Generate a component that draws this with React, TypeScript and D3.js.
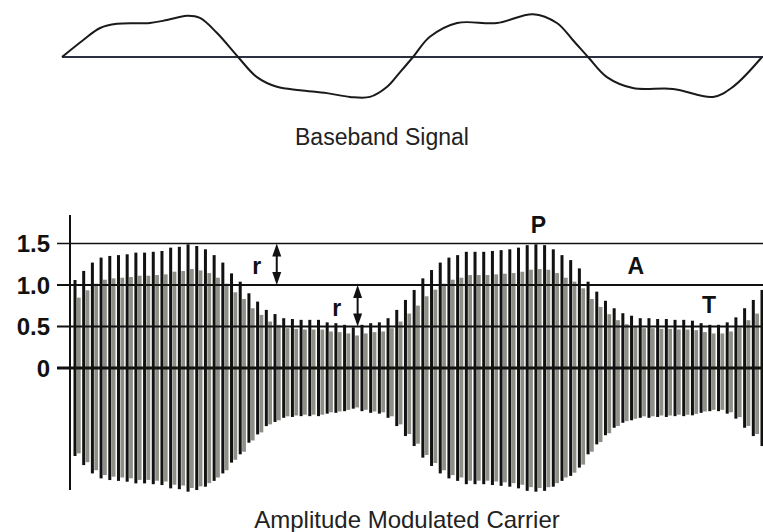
import React from 'react';
import * as d3 from 'd3';

const W = 763;
const H = 532;

// Baseband signal: time in modulation periods (0..2), normalized value (-1..1)
const basebandT = [0, 0.06, 0.109, 0.157, 0.251, 0.3, 0.357, 0.394, 0.443, 0.503, 0.557, 0.614, 0.68, 0.757, 0.823, 0.88, 0.929, 0.966, 1.003, 1.051, 1.129, 1.243, 1.346, 1.414, 1.46, 1.503, 1.557, 1.631, 1.746, 1.86, 1.917, 2.0];
const basebandV = [0, 0.4, 0.69, 0.79, 0.81, 0.88, 0.98, 0.93, 0.57, 0, -0.48, -0.71, -0.79, -0.86, -0.95, -0.95, -0.71, -0.36, 0, 0.48, 0.81, 0.81, 1.02, 0.81, 0.4, 0, -0.48, -0.74, -0.76, -0.95, -0.71, 0];

// Carrier envelope amplitude per carrier cycle (80 cycles)
const carrierEnvelope = [
  1.06, 1.17, 1.27, 1.33, 1.35, 1.36, 1.37, 1.39, 1.39, 1.4, 1.41, 1.45, 1.46, 1.49, 1.47, 1.43, 1.36, 1.27, 1.14, 1.04,
  0.9, 0.8, 0.7, 0.65, 0.6, 0.59, 0.58, 0.58, 0.58, 0.55, 0.54, 0.52, 0.49, 0.52, 0.54, 0.55, 0.6, 0.7, 0.82,
  0.94, 1.08, 1.18, 1.27, 1.33, 1.36, 1.4, 1.4, 1.4, 1.41, 1.42, 1.43, 1.45, 1.48, 1.49, 1.48, 1.43, 1.36, 1.3, 1.2,
  1.04, 0.92, 0.81, 0.72, 0.66, 0.63, 0.6, 0.6, 0.59, 0.59, 0.58, 0.58, 0.57, 0.54, 0.52, 0.52, 0.55, 0.61, 0.72, 0.82, 0.94,
];

const yTicks = [0, 0.5, 1.0, 1.5];
const yTickLabels = ['0', '0.5', '1.0', '1.5'];

// Annotation letters: [text, carrier-cycle index, amplitude]
const labelText = ['r', 'r', 'P', 'A', 'T'];
const labelIdx = [20.9, 30.1, 53.3, 64.5, 72.9];
const labelAmp = [1.23, 0.73, 1.73, 1.23, 0.76];

// Double arrows: carrier-cycle index, from amplitude, to amplitude
const arrowIdx = [23.2, 32.5];
const arrowFrom = [1.0, 0.5];
const arrowTo = [1.5, 1.0];

const titleTop = 'Baseband Signal';
const titleBottom = 'Amplitude Modulated Carrier';

export default function App() {
  // top chart scales
  const xb = d3.scaleLinear().domain([0, 2]).range([62, 762]);
  const yb = d3.scaleLinear().domain([-1, 1]).range([99, 15]);
  const basePts: [number, number][] = basebandT.map((t, i) => [xb(t), yb(basebandV[i])]);
  const baseLine = d3.line().curve(d3.curveCatmullRom.alpha(0.5))(basePts) || '';

  // bottom chart scales
  const xc = d3.scaleLinear().domain([0, carrierEnvelope.length - 1]).range([75, 762]);
  const yc = d3.scaleLinear().domain([0, 1.5]).range([368, 243.5]);

  const font = 'Arial, "Liberation Sans", Helvetica, sans-serif';

  return (
    <svg width={W} height={H} style={{ position: 'absolute', left: 0, top: 0, background: '#fff' }}>
      <rect x={0} y={0} width={W} height={H} fill="#fff" />
      {/* Baseband */}
      <line x1={xb(0)} x2={763} y1={yb(0)} y2={yb(0)} stroke="#2c2f40" strokeWidth={2} />
      <path d={baseLine} fill="none" stroke="#1a1a1a" strokeWidth={2} />
      <text x={382} y={145} textAnchor="middle" fontFamily={font} fontSize={23} fill="#222">{titleTop}</text>

      {/* Carrier bars */}
      <g>
        {carrierEnvelope.map((a, i) => (
          <rect key={'g' + i} x={xc(i) + 1.9} y={yc(a * 0.8)} width={3.8} height={yc(-a * 0.97) - yc(a * 0.8)} fill="#8f8f88" />
        ))}
        {carrierEnvelope.map((a, i) => (
          <rect key={'b' + i} x={xc(i) - 1.5} y={yc(a)} width={3} height={yc(-a) - yc(a)} fill="#111" />
        ))}
      </g>

      {/* reference lines */}
      {yTicks.map((v, i) => (
        <line key={'l' + i} x1={57} x2={763} y1={yc(v)} y2={yc(v)} stroke="#111"
          strokeWidth={v === 0 ? 3 : v === 1.5 ? 1.6 : 2} />
      ))}
      {/* y axis */}
      <line x1={70} x2={70} y1={215} y2={490} stroke="#111" strokeWidth={2} />
      {yTicks.map((v, i) => (
        <text key={'t' + i} x={50} y={yc(v)} dy="0.36em" textAnchor="end" fontFamily={font} fontWeight="bold" fontSize={24} fill="#111">{yTickLabels[i]}</text>
      ))}

      {/* arrows */}
      {arrowIdx.map((ai, i) => {
        const x = xc(ai);
        const y1 = yc(arrowTo[i]);
        const y2 = yc(arrowFrom[i]);
        return (
          <g key={'a' + i} fill="#111" stroke="none">
            <line x1={x} x2={x} y1={y1 + 4} y2={y2 - 4} stroke="#111" strokeWidth={2} />
            <path d={`M${x},${y1} L${x - 4.5},${y1 + 13} L${x + 4.5},${y1 + 13} Z`} />
            <path d={`M${x},${y2} L${x - 4.5},${y2 - 13} L${x + 4.5},${y2 - 13} Z`} />
          </g>
        );
      })}

      {/* letters */}
      {labelText.map((s, i) => (
        <text key={'lab' + i} x={xc(labelIdx[i])} y={yc(labelAmp[i])} dy="0.36em" textAnchor="middle" fontFamily={font} fontWeight="bold" fontSize={23} fill="#111">{s}</text>
      ))}

      <text x={407} y={528} textAnchor="middle" fontFamily={font} fontSize={24} fill="#222">{titleBottom}</text>
    </svg>
  );
}
